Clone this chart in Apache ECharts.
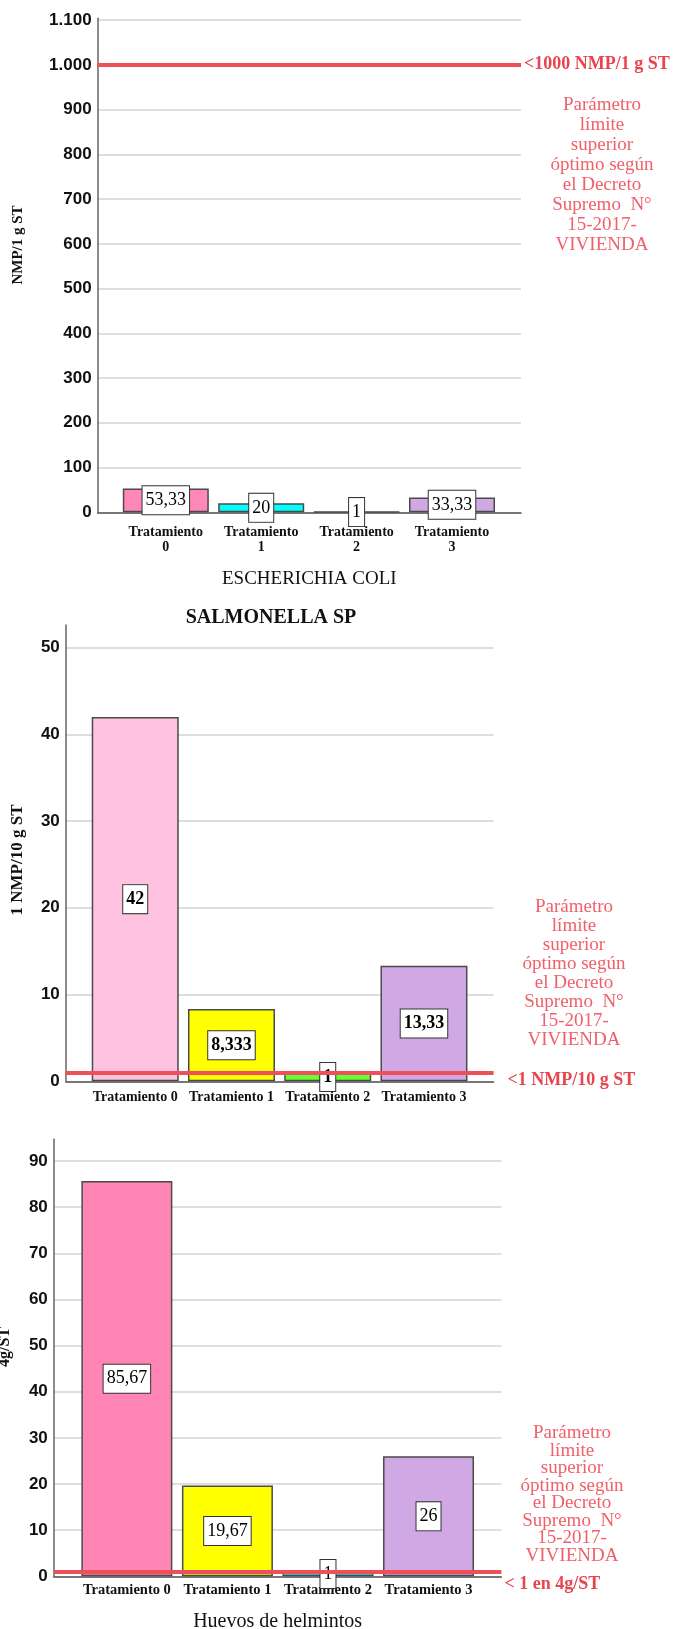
<!DOCTYPE html>
<html><head><meta charset="utf-8">
<script src="https://cdn.jsdelivr.net/npm/echarts@6/dist/echarts.min.js"></script>
<style>html,body{margin:0;padding:0;background:#fff}#c{width:673px;height:1629px}</style>
</head><body><div id="c"></div>
<script>
// ---------- data ----------
const categories = ['Tratamiento 0', 'Tratamiento 1', 'Tratamiento 2', 'Tratamiento 3'];

const ecoliValues = [53.33, 20, 1, 33.33];
const salmonellaValues = [42, 8.333, 1, 13.33];
const helmintosValues = [85.67, 19.67, 1, 26];

const ecoliLimit = 1000;
const salmonellaLimit = 1;
const helmintosLimit = 1;

const ecoliTickLabels = ['0', '100', '200', '300', '400', '500', '600', '700', '800', '900', '1.000', '1.100'];
const salmonellaTickLabels = ['0', '10', '20', '30', '40', '50'];
const helmintosTickLabels = ['0', '10', '20', '30', '40', '50', '60', '70', '80', '90'];

const ecoliLimitLabel = '<1000 NMP/1 g ST';
const salmonellaLimitLabel = '<1 NMP/10 g ST';
const helmintosLimitLabel = '< 1 en 4g/ST';
const noteText = 'Parámetro\nlímite\nsuperior\nóptimo según\nel Decreto\nSupremo  N°\n15-2017-\nVIVIENDA';

// ---------- styles ----------
const ecoliColors = ['#FF88B8', '#00FFFF', '#66FF33', '#D0A8E4'];
const salmonellaColors = ['#FFC3E1', '#FFFF00', '#66FF33', '#D0A8E4'];
const helmintosColors = ['#FF85B4', '#FFFF00', '#22E5EE', '#D0A8E4'];

const SERIF = '"Liberation Serif", "Times New Roman", serif';
const SANS = '"Liberation Sans", Arial, sans-serif';
const RED_LINE = '#EF4F58';
const RED_LABEL = '#E8454F';
const RED_NOTE = '#F0606A';
const BORDER = '#4a4a4a';

const panels = [
  { values: ecoliValues, colors: ecoliColors, limit: ecoliLimit, limitLabel: ecoliLimitLabel,
    ticks: ecoliTickLabels, interval: 100, max: 1104,
    frame: { left: 97.6, top: 18.3, width: 423.4, height: 494 }, bars: { left: 118.1, width: 381.6 }, barWidth: 86,
    twoLine: true, xLabelMargin: 13, xLabelSize: 14, labelWeight: 'normal',
    xName: 'ESCHERICHIA COLI', xNameGap: 57, xNameSize: 19,
    yName: 'NMP/1 g ST', yNameX: 18, yNameY: 245, yNameSize: 15,
    limitDist: 3, limitShift: 0, note: { x: 602, y: 95, lh: 20 } },
  { values: salmonellaValues, colors: salmonellaColors, limit: salmonellaLimit, limitLabel: salmonellaLimitLabel,
    ticks: salmonellaTickLabels, interval: 10, max: 52.6,
    frame: { left: 65.8, top: 625, width: 427.8, height: 456.3 }, bars: { left: 87.1, width: 385 }, barWidth: 87,
    twoLine: false, xLabelMargin: 9, xLabelSize: 14, labelWeight: 'bold',
    xName: '', xNameGap: 0, xNameSize: 19,
    yName: '1 NMP/10 g ST', yNameX: 18, yNameY: 860, yNameSize: 17,
    limitDist: 14, limitShift: 7.5, note: { x: 574, y: 898, lh: 19 },
    title: { text: 'SALMONELLA SP', x: 271, y: 618 } },
  { values: helmintosValues, colors: helmintosColors, limit: helmintosLimit, limitLabel: helmintosLimitLabel,
    ticks: helmintosTickLabels, interval: 10, max: 94.7,
    frame: { left: 53.8, top: 1139.3, width: 447.6, height: 437 }, bars: { left: 76.6, width: 402.2 }, barWidth: 91,
    twoLine: false, xLabelMargin: 6, xLabelSize: 14.5, labelWeight: 'normal',
    xName: 'Huevos de helmintos', xNameGap: 35, xNameSize: 20,
    yName: '4g/ST', yNameX: 5, yNameY: 1347, yNameSize: 16,
    limitDist: 3, limitShift: 12.5, note: { x: 572, y: 1424.5, lh: 17.5 } }
];

const fmtNum = v => String(v).replace('.', ',');

const grid = [], xAxis = [], yAxis = [], series = [], graphic = [];

panels.forEach((p, i) => {
  const fi = 2 * i, bi = 2 * i + 1;
  grid.push({ left: p.frame.left, top: p.frame.top, width: p.frame.width, height: p.frame.height, outerBoundsMode: 'none', containLabel: false });
  grid.push({ left: p.bars.left, top: p.frame.top, width: p.bars.width, height: p.frame.height, outerBoundsMode: 'none', containLabel: false });

  xAxis.push({
    gridIndex: fi, type: 'category', data: categories,
    axisLine: { show: true, onZero: false, lineStyle: { color: '#555', width: 1.5 } },
    axisTick: { show: false }, axisLabel: { show: false }, splitLine: { show: false },
    name: p.xName, nameLocation: 'middle', nameGap: p.xNameGap,
    nameTextStyle: { fontFamily: SERIF, fontSize: p.xNameSize, color: '#111' }
  });
  xAxis.push({
    gridIndex: bi, type: 'category', data: categories,
    axisLine: { show: false }, axisTick: { show: false }, splitLine: { show: false },
    axisLabel: {
      interval: 0, margin: p.xLabelMargin, color: '#111', fontFamily: SERIF, fontWeight: 'bold',
      fontSize: p.xLabelSize, lineHeight: 15,
      formatter: v => p.twoLine ? v.replace(' ', '\n') : v
    }
  });

  yAxis.push({
    gridIndex: fi, type: 'value', min: 0, max: p.max, interval: p.interval,
    axisLine: { show: true, lineStyle: { color: '#666', width: 1.5 } },
    axisTick: { show: false },
    axisLabel: {
      margin: 6, color: '#111', fontFamily: SANS, fontWeight: 'bold', fontSize: 17,
      formatter: v => {
        const k = v / p.interval;
        return Math.abs(k - Math.round(k)) < 1e-6 ? (p.ticks[Math.round(k)] || '') : '';
      }
    },
    splitLine: { show: true, showMaxLine: false, lineStyle: { color: '#d3d3d3', width: 1.6 } }
  });
  yAxis.push({ gridIndex: bi, type: 'value', min: 0, max: p.max, interval: p.interval, show: false, splitLine: { show: false } });

  series.push({
    type: 'bar', xAxisIndex: bi, yAxisIndex: bi, barWidth: p.barWidth, z: 2,
    data: p.values.map((v, k) => ({ value: v, itemStyle: { color: p.colors[k] } })),
    itemStyle: { borderColor: BORDER, borderWidth: 1.5 },
    label: {
      show: true, position: 'inside', formatter: d => fmtNum(d.value),
      fontFamily: SERIF, fontSize: 18, fontWeight: p.labelWeight, color: '#000',
      textBorderWidth: 0, backgroundColor: '#fff', borderColor: '#333', borderWidth: 1,
      padding: [4, 3], lineHeight: 20
    }
  });

  series.push({
    type: 'line', xAxisIndex: fi, yAxisIndex: fi, data: categories.map(() => '-'),
    symbol: 'none', lineStyle: { opacity: 0 }, silent: true, z: 5,
    markLine: {
      silent: true, symbol: ['none', 'none'], animation: false,
      lineStyle: { color: RED_LINE, width: 4, type: 'solid', opacity: 1 },
      label: { show: false },
      data: [{ yAxis: p.limit }]
    }
  });

  graphic.push({
    type: 'text', x: p.note.x, y: p.note.y, silent: true,
    style: { text: noteText, fill: RED_NOTE, fontFamily: SERIF, fontSize: 19,
      align: 'center', verticalAlign: 'top', lineHeight: p.note.lh }
  });
  graphic.push({
    type: 'text', x: p.yNameX, y: p.yNameY, rotation: Math.PI / 2, silent: true,
    style: { text: p.yName, fill: '#111', fontFamily: SERIF, fontWeight: 'bold', fontSize: p.yNameSize,
      align: 'center', verticalAlign: 'middle' }
  });
  if (p.title) {
    graphic.push({
      type: 'text', x: p.title.x, y: p.title.y, silent: true,
      style: { text: p.title.text, fill: '#111', fontFamily: SERIF, fontWeight: 'bold', fontSize: 20,
        align: 'center', verticalAlign: 'middle' }
    });
  }
});

const chart = echarts.init(document.getElementById('c'), null, { renderer: 'canvas' });
chart.setOption({ animation: false, backgroundColor: '#fff', grid, xAxis, yAxis, series, graphic });

// limit labels, placed next to the end of each limit line
panels.forEach((p, i) => {
  const y = chart.convertToPixel({ yAxisIndex: 2 * i }, p.limit);
  graphic.push({
    type: 'text', x: p.frame.left + p.frame.width + p.limitDist, y: y + p.limitShift, silent: true,
    style: { text: p.limitLabel, fill: RED_LABEL, fontFamily: SERIF, fontWeight: 'bold', fontSize: 18,
      align: 'left', verticalAlign: 'middle' }
  });
});
chart.setOption({ graphic });
</script></body></html>
